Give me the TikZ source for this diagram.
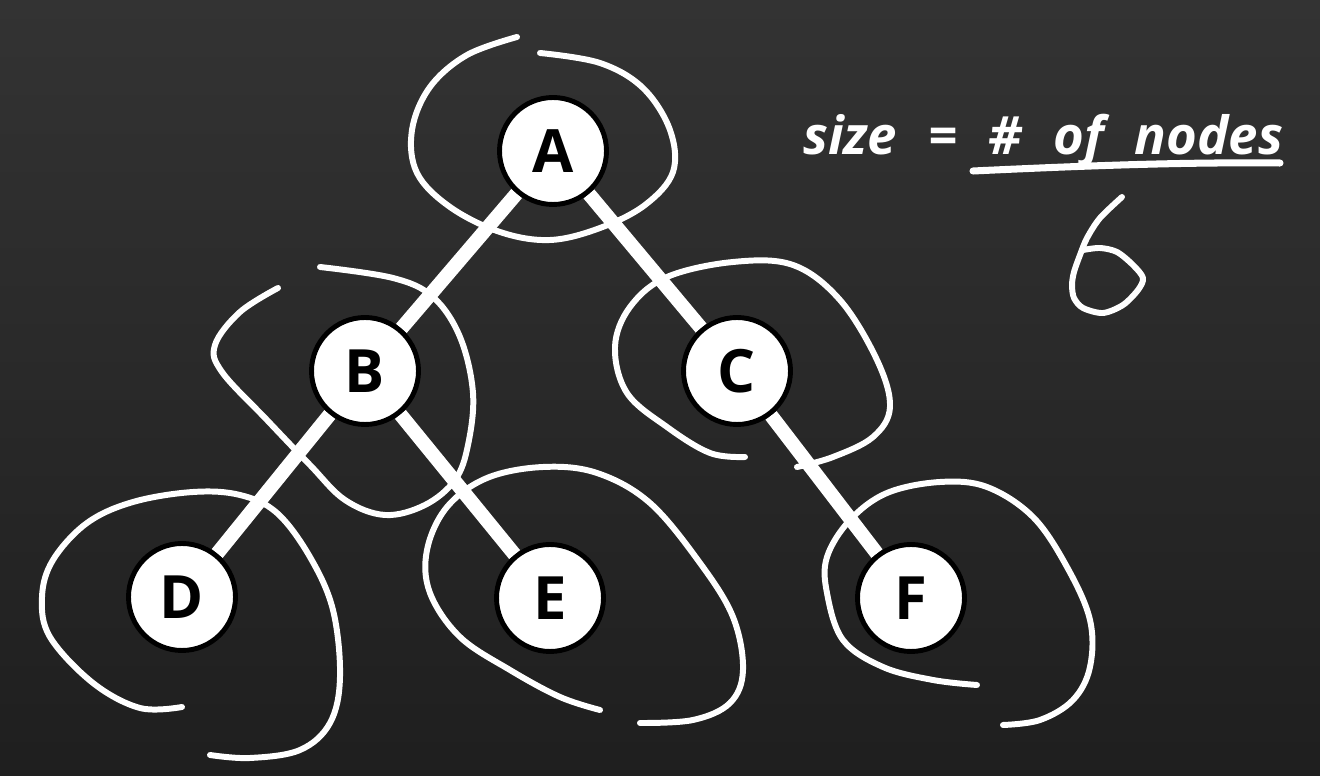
\documentclass[tikz,border=0pt]{standalone}
\usepackage{fontspec}
\setmainfont{Open Sans}
\pgfdeclarelayer{bg}
\pgfdeclarelayer{edgelayer}
\pgfsetlayers{bg,edgelayer,main}
\begin{document}
\begin{tikzpicture}[x=0.02cm,y=-0.02cm,
  tnode/.style={circle, draw=black, fill=white, line width=2.8pt, minimum size=2.14cm, inner sep=0pt,
                font=\fontsize{34}{34}\selectfont\bfseries},
  edge/.style={white, line width=8pt},
  chalk/.style={white, line width=3.4pt, line cap=round, line join=round},
  lbl/.style={white, inner sep=0pt, font=\fontsize{30}{30}\selectfont\bfseries\itshape}]
\begin{pgfonlayer}{bg}
  \fill[top color=black!80, bottom color=black!88] (0,0) rectangle (1320,776);
\end{pgfonlayer}
\useasboundingbox (0,0) rectangle (1320,776);

% nodes
\node[tnode] (A) at (553,151) {A};
\node[tnode] (B) at (365,371) {B};
\node[tnode] (C) at (737,371) {C};
\node[tnode] (D) at (182,597) {D};
\node[tnode] (E) at (550,598) {E};
\node[tnode] (F) at (911,598) {F};

% edges
\begin{pgfonlayer}{edgelayer}
  \draw[edge] (A) -- (B);
  \draw[edge] (A) -- (C);
  \draw[edge] (B) -- (D);
  \draw[edge] (B) -- (E);
  \draw[edge] (C) -- (F);
\end{pgfonlayer}

% chalk loops
\draw[chalk] plot[smooth, tension=0.6] coordinates {(517,37) (467,55) (430,87) (412,130) (417,173) (450,207) (500,232) (550,240) (600,228) (645,205) (673,172) (670,130) (643,88) (600,63) (540,53)};
\draw[chalk] plot[smooth, tension=0.6] coordinates {(278,288) (240,312) (215,345) (222,372) (267,420) (310,465) (345,500) (385,515) (425,505) (455,480) (468,445) (473,393) (460,337) (433,297) (393,278) (320,267)};
\draw[chalk] plot[smooth, tension=0.6] coordinates {(745,457) (710,453) (667,427) (627,393) (615,347) (630,307) (667,277) (733,262) (793,265) (840,300) (877,360) (890,407) (873,437) (833,457) (797,467)};
\draw[chalk] plot[smooth, tension=0.6] coordinates {(182,707) (140,708) (93,683) (50,637) (42,597) (53,560) (87,523) (133,502) (193,492) (240,495) (277,513) (310,557) (333,610) (340,677) (330,723) (300,750) (250,758) (210,755)};
\draw[chalk] plot[smooth, tension=0.6] coordinates {(600,710) (560,697) (510,670) (460,637) (430,593) (427,550) (447,507) (487,478) (543,467) (597,473) (650,503) (700,563) (733,617) (743,670) (730,703) (693,720) (640,723)};
\draw[chalk] plot[smooth, tension=0.6] coordinates {(977,685) (933,680) (883,667) (843,640) (827,593) (827,557) (850,520) (887,493) (940,482) (987,487) (1033,517) (1067,567) (1090,620) (1090,667) (1073,700) (1040,720) (1003,725)};

% label
\node[lbl, anchor=base west] (size) at (803,155) {\hbox to 9.6cm{size\hfill=\hfill\#\hfill of\hfill nodes}};
\coordinate (ul1) at (973,171);
\coordinate (ul2) at (1280,163);
\draw[white, line width=4pt, line cap=round] (ul1) .. controls (1080,166) and (1180,162) .. (ul2);

% the digit 6
\draw[chalk] plot[smooth, tension=0.5] coordinates {(1122,197) (1100,218) (1087,238) (1080,255) (1074,272) (1072,285) (1074,298) (1083,308) (1103,313) (1123,305) (1138,290) (1143,278) (1133,265) (1117,252) (1100,248) (1083,250)};
\end{tikzpicture}
\end{document}
